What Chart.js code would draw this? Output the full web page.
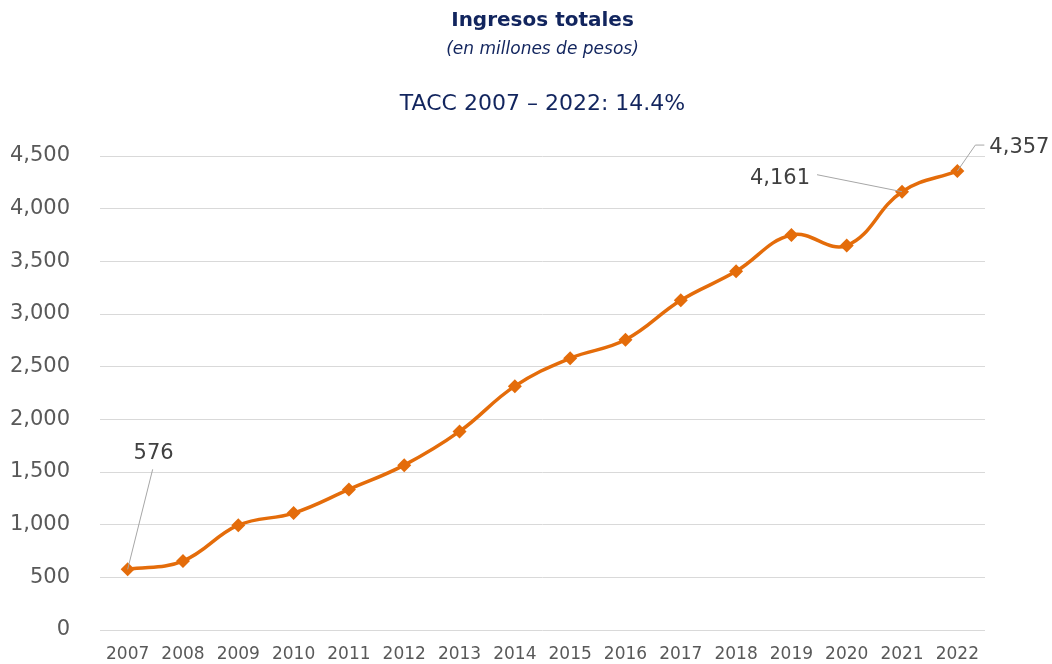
<!DOCTYPE html>
<html>
<head>
  <meta charset="UTF-8">
  <title>Ingresos totales</title>
  <script src="https://cdn.jsdelivr.net/npm/chart.js"></script>
  <style>
    html, body { margin: 0; padding: 0; background: #fff; overflow: hidden; }
    canvas { display: block; }
  </style>
</head>
<body>
  <canvas id="chart" width="1052" height="664"></canvas>
  <script>
    const years = ["2007","2008","2009","2010","2011","2012","2013","2014","2015","2016","2017","2018","2019","2020","2021","2022"];
    const ingresos = [576, 655, 995, 1110, 1335, 1565, 1885, 2315, 2580, 2755, 3130, 3405, 3750, 3650, 4161, 4357];
    const yTicks = [0, 500, 1000, 1500, 2000, 2500, 3000, 3500, 4000, 4500];
    const titleLines = ["Ingresos totales", "(en millones de pesos)", "TACC 2007 – 2022: 14.4%"];

    // labelled points: text offset and leader line end, relative to the point
    const callouts = [
      { index: 0,  tx: 26,  ty: -116, align: "center", lx: 25, ly: -100, elbow: null },
      { index: 14, tx: -92, ty: -13,  align: "right",  lx: -85, ly: -17, elbow: null },
      { index: 15, tx: 32,  ty: -24,  align: "left",   lx: 18, ly: -26, elbow: 27 }
    ];

    const font = "'DejaVu Sans', sans-serif";
    const fmt = v => v.toLocaleString("en-US");

    const extras = {
      id: "extras",
      afterDatasetsDraw(chart) {
        const ctx = chart.ctx;
        const area = chart.chartArea;
        const cx = (area.left + area.right) / 2;
        ctx.save();
        ctx.textAlign = "center";
        ctx.textBaseline = "middle";
        ctx.fillStyle = "#12255e";
        ctx.font = "bold 20px " + font;
        ctx.fillText(titleLines[0], cx, 21);
        ctx.font = "italic 17px " + font;
        ctx.fillText(titleLines[1], cx, 50);
        ctx.font = "22px " + font;
        ctx.fillText(titleLines[2], cx, 104);

        const pts = chart.getDatasetMeta(0).data;
        ctx.font = "21px " + font;
        ctx.fillStyle = "#404040";
        ctx.strokeStyle = "#a6a6a6";
        ctx.lineWidth = 1;
        callouts.forEach(c => {
          const p = pts[c.index];
          ctx.beginPath();
          ctx.moveTo(p.x, p.y);
          ctx.lineTo(p.x + c.lx, p.y + c.ly);
          if (c.elbow !== null) ctx.lineTo(p.x + c.elbow, p.y + c.ly);
          ctx.stroke();
          ctx.textAlign = c.align;
          ctx.fillText(fmt(ingresos[c.index]), p.x + c.tx, p.y + c.ty);
        });
        ctx.restore();
      }
    };

    new Chart(document.getElementById("chart"), {
      type: "line",
      data: {
        labels: years,
        datasets: [{
          data: ingresos,
          borderColor: "#e46c0a",
          backgroundColor: "#e46c0a",
          borderWidth: 3.5,
          tension: 0.4,
          pointStyle: "rectRot",
          pointRadius: 7,
          pointHoverRadius: 7,
          pointBorderWidth: 0
        }]
      },
      options: {
        responsive: false,
        animation: false,
        layout: { padding: { top: 156, right: 67, bottom: 0, left: 0 } },
        plugins: { legend: { display: false }, tooltip: { enabled: false } },
        scales: {
          x: {
            offset: true,
            grid: { display: false, drawTicks: false },
            border: { display: false },
            ticks: { color: "#595959", font: { family: font, size: 17 }, padding: 14, maxRotation: 0, autoSkip: false },
            afterFit: s => { s.height = 34; }
          },
          y: {
            min: 0,
            max: 4500,
            afterBuildTicks: s => { s.ticks = yTicks.map(v => ({ value: v })); },
            grid: { color: "#d9d9d9", lineWidth: 1, drawTicks: false },
            border: { display: false },
            ticks: { color: "#595959", font: { family: font, size: 21 }, padding: 30, callback: v => fmt(v) },
            afterFit: s => { s.width = 100; s.paddingTop = 0; s.paddingBottom = 0; }
          }
        }
      },
      plugins: [extras]
    });
  </script>
</body>
</html>
